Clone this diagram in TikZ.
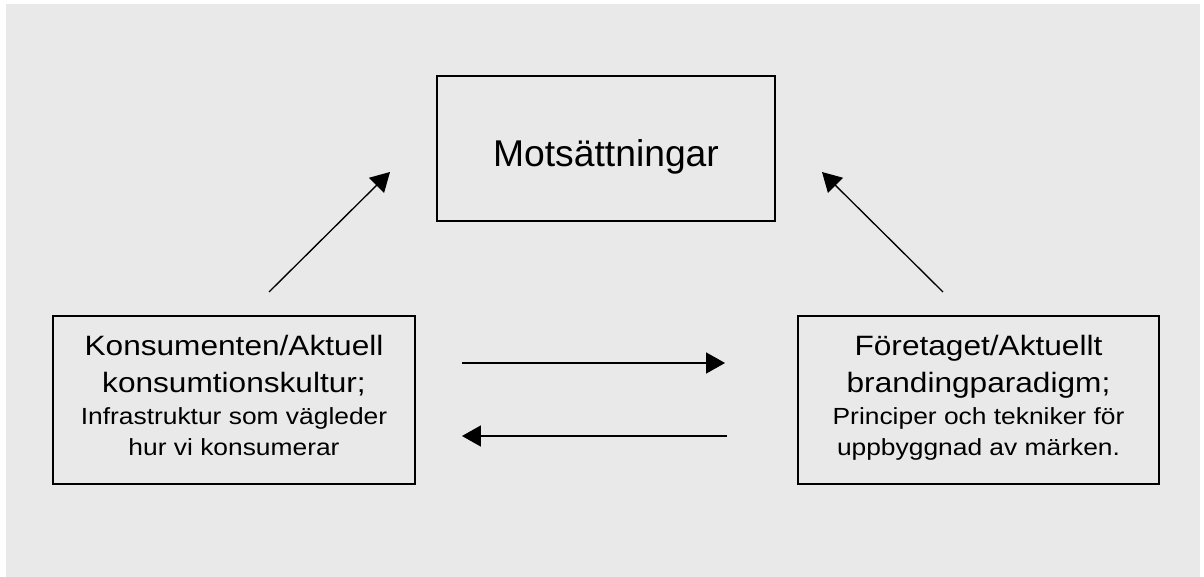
\documentclass[tikz,border=0pt]{standalone}
\usepackage{fontspec}
\setmainfont{Liberation Sans}
\newfontfamily\boxfont[FakeStretch=1.13]{Liberation Sans}
\usetikzlibrary{arrows.meta, positioning}
\definecolor{bggray}{HTML}{E9E9E9}
\newcommand{\bigtext}{\fontsize{19.9}{22}\selectfont}

\begin{document}
\begin{tikzpicture}[x=0.025cm, y=-0.025cm, >={Triangle[length=13.5pt, width=15pt]},
  box/.style={draw=black, line width=1.1pt, align=center, inner sep=0pt},
  sidebox/.style={box, minimum width=9.05cm, minimum height=4.2cm,
    font=\boxfont\fontsize{16.6}{22}\selectfont},
  link/.style={->, line width=0.95pt}]

% Background
\useasboundingbox (0,0) rectangle (1204,577);
\fill[bggray] (6,4) rectangle (1200,577);

% Top box
\node[box, minimum width=8.45cm, minimum height=3.625cm, text height=24.9pt, text depth=0pt,
  font=\fontsize{26.5}{30}\selectfont] (motsat) at (606,148.5) {Motsättningar};

% Consumer side
\node[sidebox] (konsument) at (234,400)
  {{\bigtext Konsumenten/Aktuell}\\[4.3pt]{\bigtext konsumtionskultur;}\\[0.8pt]
   Infrastruktur som vägleder\\hur vi konsumerar\strut};

% Company side
\node[sidebox, minimum width=9.025cm] (foretag) at (978.5,400)
  {{\bigtext Företaget/Aktuellt}\\[4.3pt]{\bigtext brandingparadigm;}\\[0.8pt]
   Principer och tekniker för\\uppbyggnad av märken.\strut};

% Arrows up to the top box
\coordinate (kstart) at (269,292);
\coordinate (kend) at (390,172);
\coordinate (fstart) at (943,292);
\coordinate (fend) at (822,172);
\draw[link] (kstart) -- (kend);
\draw[link] (fstart) -- (fend);

% Arrows between the two sides
\coordinate (toright1) at (462,363);
\coordinate (toright2) at (725,363);
\coordinate (toleft1) at (727,436);
\coordinate (toleft2) at (462,436);
\draw[link] (toright1) -- (toright2);
\draw[link] (toleft1) -- (toleft2);

\end{tikzpicture}
\end{document}
